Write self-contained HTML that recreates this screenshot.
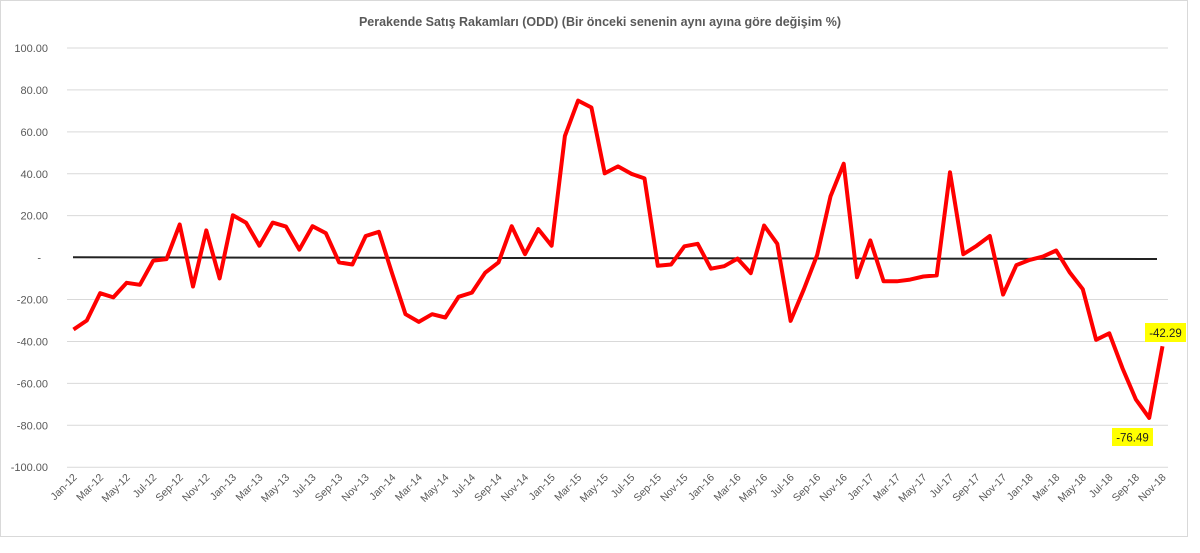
<!DOCTYPE html>
<html><head><meta charset="utf-8"><style>
body{margin:0;background:#fff;}
svg{display:block;font-family:"Liberation Sans",sans-serif;}
</style></head><body>
<svg id="s" width="1200" height="553" xmlns="http://www.w3.org/2000/svg">
<rect x="0.5" y="0.5" width="1187" height="536" fill="#fff" stroke="#d9d9d9"/>
<text x="600" y="26" text-anchor="middle" font-size="12.5" font-weight="bold" fill="#595959">Perakende Satış Rakamları (ODD) (Bir önceki senenin aynı ayına göre değişim %)</text>
<g id="grid" stroke="#d9d9d9" stroke-width="1"></g>
<g id="yl" font-size="11" fill="#595959" text-anchor="end"></g>
<g id="xl" font-size="10.5" fill="#595959" text-anchor="end"></g>
<line x1="73" y1="257.3" x2="1157" y2="259" stroke="#222" stroke-width="2"/>
<polyline id="pl" fill="none" stroke="#ff0000" stroke-width="4" stroke-linejoin="round" points=""/>
<rect x="1145" y="323" width="41" height="19" fill="#ffff00"/>
<text x="1165.5" y="337" text-anchor="middle" font-size="11.5" fill="#222">-42.29</text>
<rect x="1112" y="428" width="41" height="18" fill="#ffff00"/>
<text x="1132.5" y="441.5" text-anchor="middle" font-size="11.5" fill="#222">-76.49</text>
</svg>
<script>
var d=[-34.3,-30,-17,-19,-12,-13,-1.5,-0.7,15.8,-13.8,13,-9.9,20.2,16.6,5.7,16.7,14.8,3.8,15,11.7,-2.3,-3.3,10.3,12.3,-7.7,-27,-30.7,-27,-28.6,-18.7,-16.7,-7.2,-2.3,15,1.6,13.6,5.7,58,74.9,71.6,40.2,43.5,40,37.8,-3.9,-3.3,5.4,6.6,-5.3,-4.1,-0.5,-7.4,15.3,6.6,-30.2,-15.1,1.3,29.2,44.8,-9.4,8.2,-11.3,-11.3,-10.5,-9,-8.5,40.7,1.6,5.6,10.3,-17.6,-3.6,-1.1,0.5,3.4,-6.9,-15.1,-39.2,-36.1,-52.9,-67.7,-76.49,-42.29];
function X(i){return 73.5+i*13.28;}function Y(v){return 257.6-v*2.096;}
var p=d.map(function(v,i){return X(i).toFixed(1)+","+Y(v).toFixed(1)}).join(" ");
document.getElementById("pl").setAttribute("points",p);
var ns="http://www.w3.org/2000/svg",g=document.getElementById("grid"),yl=document.getElementById("yl"),xl=document.getElementById("xl");
for(var v=100;v>=-100;v-=20){var y=Y(v);
 if(v!=0){var l=document.createElementNS(ns,"line");l.setAttribute("x1",67);l.setAttribute("x2",1168);l.setAttribute("y1",y);l.setAttribute("y2",y);g.appendChild(l);}
 var t=document.createElementNS(ns,"text");t.setAttribute("x",v==0?41:48);t.setAttribute("y",y+4);t.textContent=v==0?"-":v.toFixed(2);yl.appendChild(t);}
var m=["Jan","Mar","May","Jul","Sep","Nov"];
for(var i=0;i<83;i+=2){var yr=12+Math.floor(i/12),mo=m[(i%12)/2];
 var t=document.createElementNS(ns,"text"),x=X(i)+4,y=478;
 t.setAttribute("transform","translate("+x+","+y+") rotate(-45)");t.textContent=mo+"-"+yr;xl.appendChild(t);}
</script>
</body></html>
